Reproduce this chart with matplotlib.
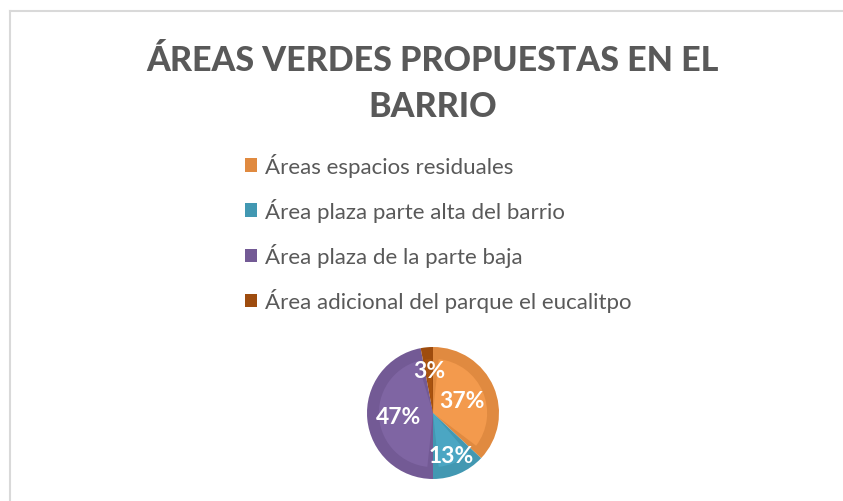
import matplotlib
matplotlib.use("Agg")
import matplotlib.pyplot as plt
from matplotlib.patches import Wedge
from matplotlib.lines import Line2D
import numpy as np

title = "ÁREAS VERDES PROPUESTAS EN EL\nBARRIO"
categories = [
    "Áreas espacios residuales",
    "Área plaza parte alta del barrio",
    "Área plaza de la parte baja",
    "Área adicional del parque el eucalitpo",
]
shares = [37, 13, 47, 3]

edge_colors = ["#E08A40", "#4298B2", "#735A95", "#9E4C0E"]
fill_colors = ["#F39A4D", "#4BA6C3", "#7F65A3", "#A8530F"]
label_dist = [0.48, 0.70, 0.53, 0.64]

FONT = "Lato"
GREY = "#595959"

fig = plt.figure(figsize=(8.43, 5.02), dpi=100)
fig.patch.set_facecolor("white")

# thin chart-area frame (top and left edges visible)
fig.add_artist(Line2D([10 / 843, 10 / 843], [0, 1 - 12 / 502], color="#D9D9D9", lw=1.5))
fig.add_artist(Line2D([10 / 843, 1], [1 - 12 / 502, 1 - 12 / 502], color="#D9D9D9", lw=1.5))

fig.text(433 / 843, 1 - 84 / 502, title, ha="center", va="center", fontsize=24.5,
         fontweight="black", color=GREY, family=FONT, linespacing=1.55)

# pie
cx, cy, r = 433, 414, 66
ax = fig.add_axes([(cx - r) / 843, (502 - cy - r) / 502, 2 * r / 843, 2 * r / 502])
wedges, _, autotexts = ax.pie(shares, colors=edge_colors, startangle=90, counterclock=False,
                              autopct="%1.0f%%", pctdistance=0.6, radius=1,
                              wedgeprops=dict(linewidth=0),
                              textprops=dict(color="white", fontsize=16.5, fontweight="bold",
                                             family=FONT))

# lighter inner face on each slice
for w, c in zip(wedges, fill_colors):
    span = w.theta2 - w.theta1
    inset = min(6, span * 0.15)
    ax.add_patch(Wedge((0, 0), 0.82, w.theta1 + inset, w.theta2 - inset,
                       facecolor=c, linewidth=0, zorder=w.get_zorder() + 0.1))

for w, t, d in zip(wedges, autotexts, label_dist):
    mid = np.deg2rad((w.theta1 + w.theta2) / 2)
    t.set_position((d * np.cos(mid), d * np.sin(mid)))
    t.set_zorder(5)

ax.set_xlim(-1, 1)
ax.set_ylim(-1, 1)
ax.set_aspect("equal")
ax.axis("off")

fig.legend(wedges, categories, loc="upper left", bbox_to_anchor=(236 / 843, 1 - 145 / 502),
           frameon=False, labelcolor=GREY, prop=dict(family=FONT, size=16),
           handlelength=0.55, handleheight=0.55, handletextpad=0.35, labelspacing=0.95,
           borderaxespad=0)

fig.savefig("out.png", dpi=100, facecolor="white")
